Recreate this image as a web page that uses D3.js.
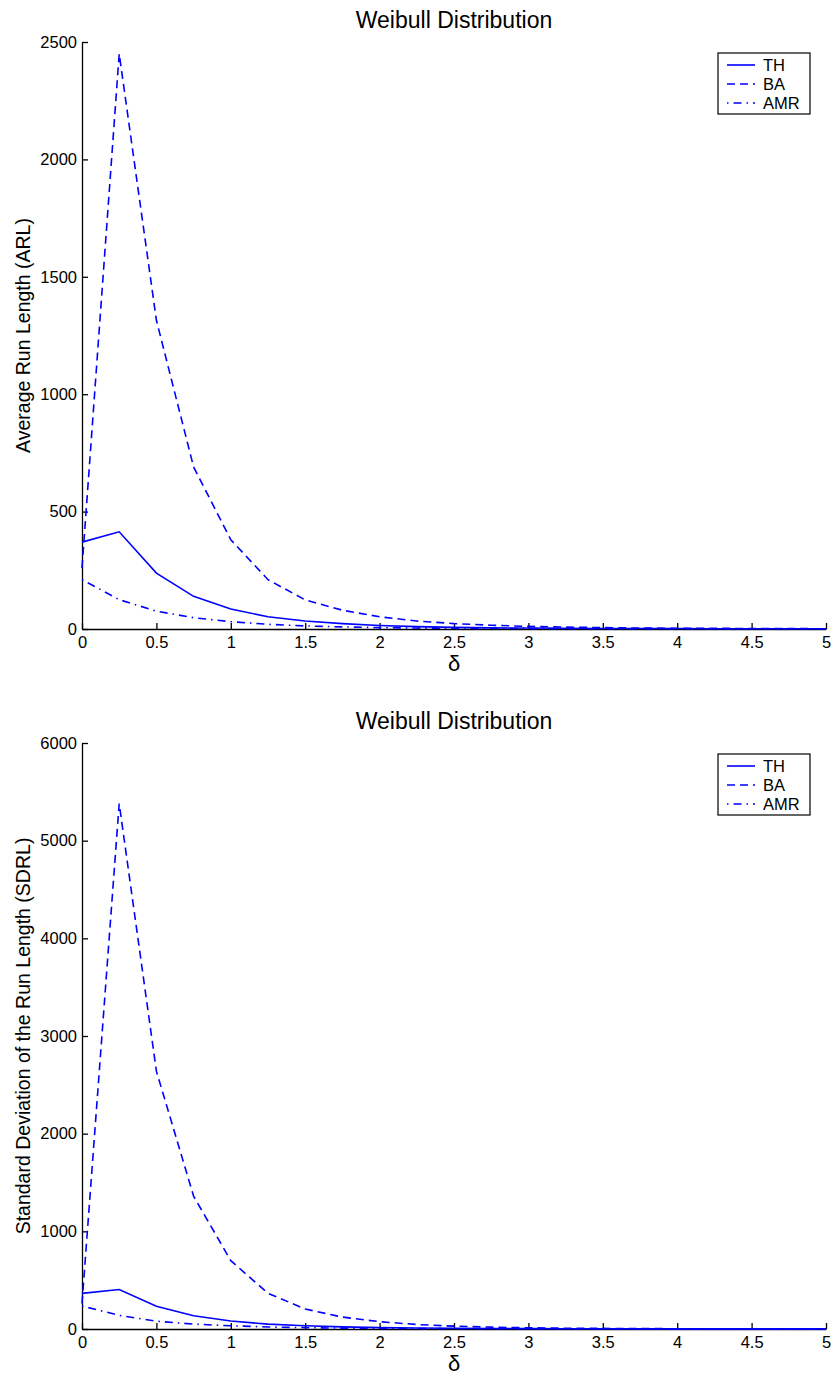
<!DOCTYPE html>
<html>
<head>
<meta charset="utf-8">
<script src="https://cdn.jsdelivr.net/npm/d3@7"></script>
<style>
  body { margin: 0; background: #fff; }
  text { font-family: "Liberation Sans", Arial, Helvetica, sans-serif; fill: #000; }
</style>
</head>
<body>
<svg id="chart" width="834" height="1377"></svg>
<script>
// delta values (shift size)
var delta = [0, 0.25, 0.5, 0.75, 1, 1.25, 1.5, 1.75, 2, 2.25, 2.5, 2.75, 3, 3.25, 3.5, 3.75, 4, 4.25, 4.5, 4.75, 5];

// ARL panel
var arlTH  = [370, 414, 238, 139, 85, 52, 34, 23, 15, 10, 7, 5, 4, 3, 2, 2, 2, 1, 1, 1, 1];
var arlBA  = [260, 2450, 1315, 690, 380, 210, 124, 80, 52, 34, 23, 16, 11, 8, 6, 4, 3, 3, 2, 2, 1];
var arlAMR = [210, 125, 76, 48, 31, 20, 13, 9, 6, 4, 3, 2, 2, 1, 1, 1, 1, 1, 1, 1, 1];

// SDRL panel
var sdTH  = [365, 405, 232, 136, 82, 50, 33, 22, 14, 10, 7, 5, 4, 3, 2, 2, 1, 1, 1, 1, 1];
var sdBA  = [260, 5380, 2640, 1360, 700, 365, 205, 122, 75, 46, 29, 19, 12, 8, 6, 4, 3, 2, 2, 1, 1];
var sdAMR = [235, 140, 80, 50, 33, 21, 14, 9, 6, 4, 3, 2, 2, 1, 1, 1, 1, 1, 1, 1, 1];

var xTicks = [0, 0.5, 1, 1.5, 2, 2.5, 3, 3.5, 4, 4.5, 5];
var arlTicks = [0, 500, 1000, 1500, 2000, 2500];
var sdTicks = [0, 1000, 2000, 3000, 4000, 5000, 6000];

var seriesNames = ["TH", "BA", "AMR"];
var dashes = [null, "8,5", "1.5,5,8,5"];

var svg = d3.select("#chart");

function panel(top, bottom, ymax, yticks, data, ylabel, legendTop) {
  var left = 82, right = 826;
  var x = d3.scaleLinear().domain([0, 5]).range([left, right]);
  var y = d3.scaleLinear().domain([0, ymax]).range([bottom, top]);
  var g = svg.append("g");

  // x axis (ticks pointing inward)
  var xAxis = d3.axisBottom(x).tickValues(xTicks).tickSizeInner(-6).tickSizeOuter(0)
    .tickPadding(0).tickFormat(d3.format("~g"));
  var gx = g.append("g").attr("transform", "translate(0," + bottom + ")").call(xAxis);
  gx.select(".domain").attr("stroke", "#000").attr("stroke-width", 1.3);
  gx.selectAll(".tick line").attr("stroke", "#000").attr("stroke-width", 1.3);
  gx.selectAll("text").attr("font-size", 16.5).attr("y", 19).attr("dy", null);

  var yAxis = d3.axisLeft(y).tickValues(yticks).tickSizeInner(-6).tickSizeOuter(0)
    .tickPadding(0).tickFormat(d3.format("d"));
  var gy = g.append("g").attr("transform", "translate(" + left + ",0)").call(yAxis);
  gy.select(".domain").attr("stroke", "#000").attr("stroke-width", 1.3);
  gy.selectAll(".tick line").attr("stroke", "#000").attr("stroke-width", 1.3);
  gy.selectAll("text").attr("font-size", 16.5).attr("x", -5);

  // lines
  var line = d3.line().x(function(d, i) { return x(delta[i]); }).y(function(d) { return y(d); });
  data.forEach(function(s, k) {
    g.append("path")
      .attr("d", line(s))
      .attr("fill", "none")
      .attr("stroke", "#0000ff")
      .attr("stroke-width", 1.6)
      .attr("stroke-dasharray", dashes[k]);
  });

  // title
  g.append("text").attr("x", (left + right) / 2).attr("y", top - 14)
    .attr("text-anchor", "middle").attr("font-size", 23).text("Weibull Distribution");

  // x label
  g.append("text").attr("x", (left + right) / 2).attr("y", bottom + 42)
    .attr("text-anchor", "middle").attr("font-size", 22).text("δ");

  // y label
  g.append("text").attr("transform", "translate(29.5," + ((top + bottom) / 2) + ") rotate(-90)")
    .attr("text-anchor", "middle").attr("font-size", 19.5).text(ylabel);

  // legend
  var lg = g.append("g");
  lg.append("rect").attr("x", 718).attr("y", legendTop).attr("width", 92).attr("height", 61)
    .attr("fill", "#fff").attr("stroke", "#000").attr("stroke-width", 1.2);
  seriesNames.forEach(function(n, k) {
    var yy = legendTop + 12 + k * 19;
    lg.append("line").attr("x1", 727).attr("x2", 755).attr("y1", yy).attr("y2", yy)
      .attr("stroke", "#0000ff").attr("stroke-width", 1.6).attr("stroke-dasharray", dashes[k]);
    lg.append("text").attr("x", 763).attr("y", yy).attr("dy", "0.36em")
      .attr("font-size", 16.5).text(n);
  });
}

panel(42, 629, 2500, arlTicks, [arlTH, arlBA, arlAMR], "Average Run Length (ARL)", 53);
panel(743, 1329, 6000, sdTicks, [sdTH, sdBA, sdAMR], "Standard Deviation of the Run Length (SDRL)", 754);
</script>
</body>
</html>
